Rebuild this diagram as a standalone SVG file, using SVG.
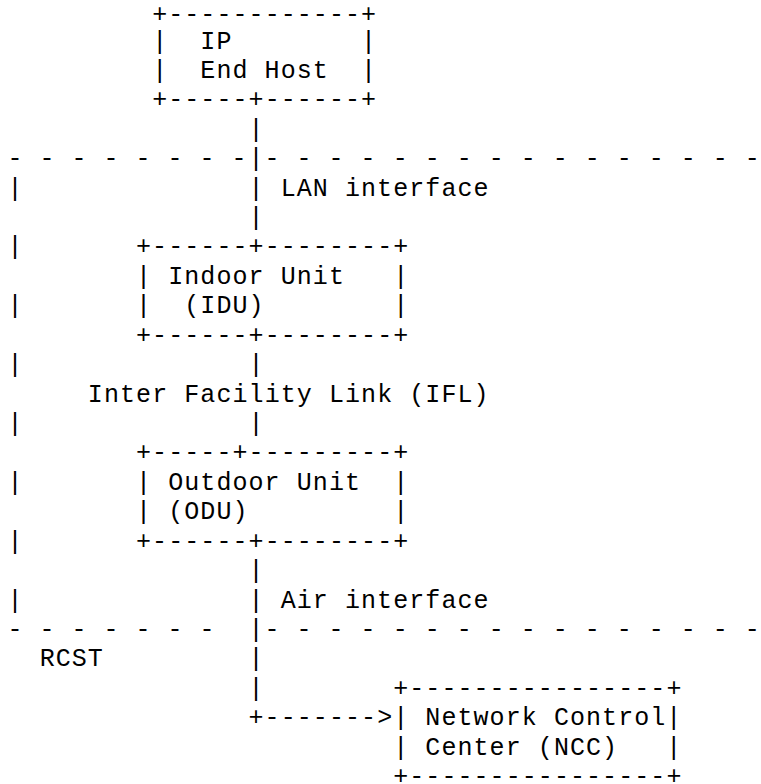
<svg xmlns="http://www.w3.org/2000/svg" width="761" height="784" viewBox="0 0 761 784" xml:space="preserve">
<style>
text{font-family:"Liberation Mono","DejaVu Sans Mono",monospace;font-size:25px;letter-spacing:1.07px;fill:#000;white-space:pre}
text.dash{letter-spacing:1px}
</style>
<rect width="761" height="784" fill="#fff"/>
<g id="ip-end-host">
<text x="152.13" y="21.5">+------------+</text>
<text x="152.13" y="48.52">|</text><text x="200.34" y="48.52">IP</text><text x="361.04" y="48.52">|</text>
<text x="152.13" y="77.94">|</text><text x="200.34" y="77.94">End Host</text><text x="361.04" y="77.94">|</text>
<text x="152.13" y="107.36">+-----+------+</text>
</g>
<g id="rcst-boundary">
<text class="dash" x="7.5" y="166.2">- - - - - - - -</text>
<text class="dash" x="264.62" y="166.2">- - - - - - - - - - - - - - - -</text>
<text x="7.5" y="195.62">|</text>
<text x="7.5" y="254.46">|</text>
<text x="7.5" y="313.3">|</text>
<text x="7.5" y="372.14">|</text>
<text x="7.5" y="430.98">|</text>
<text x="7.5" y="489.82">|</text>
<text x="7.5" y="548.66">|</text>
<text x="7.5" y="607.5">|</text>
<text class="dash" x="7.5" y="636.92">- - - - - - -</text>
<text class="dash" x="264.62" y="636.92">- - - - - - - - - - - - - - - -</text>
<text x="39.64" y="666.34">RCST</text>
</g>
<g id="idu">
<text x="136.06" y="254.46">+------+--------+</text>
<text x="136.06" y="283.88">|</text><text x="168.2" y="283.88">Indoor Unit</text><text x="393.18" y="283.88">|</text>
<text x="136.06" y="313.3">|</text><text x="184.27" y="313.3">(IDU)</text><text x="393.18" y="313.3">|</text>
<text x="136.06" y="342.72">+------+--------+</text>
</g>
<g id="odu">
<text x="136.06" y="460.4">+-----+---------+</text>
<text x="136.06" y="489.82">|</text><text x="168.2" y="489.82">Outdoor Unit</text><text x="393.18" y="489.82">|</text>
<text x="136.06" y="519.24">|</text><text x="168.2" y="519.24">(ODU)</text><text x="393.18" y="519.24">|</text>
<text x="136.06" y="548.66">+------+--------+</text>
</g>
<g id="ncc">
<text x="393.18" y="695.76">+----------------+</text>
<text x="393.18" y="725.18">|</text><text x="425.32" y="725.18">Network Control</text><text x="666.37" y="725.18">|</text>
<text x="393.18" y="754.6">|</text><text x="425.32" y="754.6">Center (NCC)</text><text x="666.37" y="754.6">|</text>
<text x="393.18" y="783.5">+----------------+</text>
</g>
<g id="connectors">
<text x="248.55" y="136.78">|</text>
<text x="248.55" y="166.2">|</text>
<text x="248.55" y="195.62">|</text>
<text x="248.55" y="225.04">|</text>
<text x="248.55" y="372.14">|</text>
<text x="248.55" y="430.98">|</text>
<text x="248.55" y="578.08">|</text>
<text x="248.55" y="607.5">|</text>
<text x="248.55" y="636.92">|</text>
<text x="248.55" y="666.34">|</text>
<text x="248.55" y="695.76">|</text>
<text x="248.55" y="725.18">+-------&gt;</text>
<text x="280.69" y="195.62">LAN interface</text>
<text x="87.85" y="401.56">Inter Facility Link (IFL)</text>
<text x="280.69" y="607.5">Air interface</text>
</g>
</svg>
